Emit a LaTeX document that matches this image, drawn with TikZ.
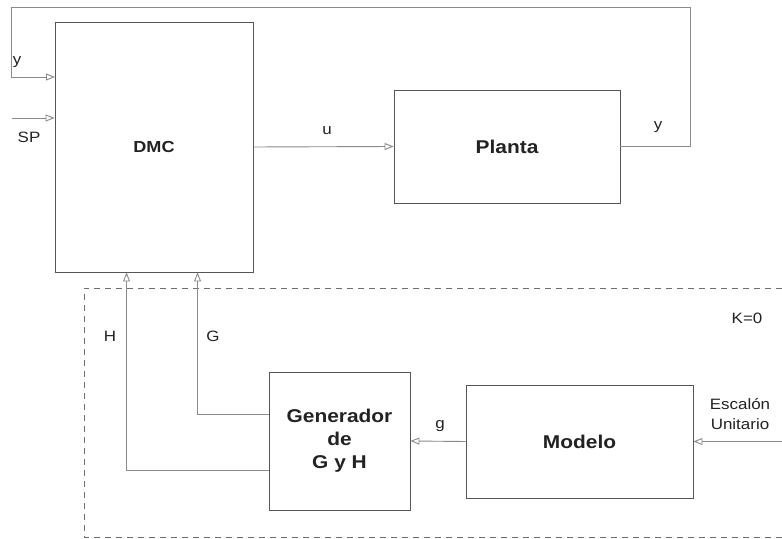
\documentclass[tikz,border=0pt]{standalone}
\usepackage{fontspec}
\setmainfont{Liberation Sans}[FakeStretch=1.13]
\usetikzlibrary{arrows.meta}
\definecolor{pcFFFFFF}{HTML}{FFFFFF}
\definecolor{pc555555}{HTML}{555555}
\definecolor{pc8A8A8A}{HTML}{8A8A8A}
\definecolor{pc6E6E6E}{HTML}{6E6E6E}
\definecolor{pc222222}{HTML}{222222}
\tikzset{
  blk/.style={draw=pc555555, line width=0.9bp, fill=pcFFFFFF, inner sep=0, align=center,
    text=pc222222, font=\bfseries\fontsize{18.5bp}{23bp}\selectfont},
  sig/.style={draw=pc8A8A8A, line width=0.9bp, -{Triangle[open, length=9bp, width=7bp]}},
  wire/.style={draw=pc8A8A8A, line width=0.9bp},
  lbl/.style={inner sep=0, text=pc222222, align=center, font=\fontsize{15bp}{20bp}\selectfont},
  zone/.style={draw=pc6E6E6E, line width=0.9bp, dash pattern=on 6bp off 5bp}
}

\begin{document}
\begin{tikzpicture}[x=1bp, y=-1bp]
\path[use as bounding box] (0,0) rectangle (782,539);
\path[fill=pcFFFFFF] (0,0) rectangle (782,539);
% bloques
\node[blk, minimum width=198bp, minimum height=250bp, font=\bfseries\fontsize{16bp}{20bp}\selectfont] (dmc) at (154,147) {DMC};
\node[blk, minimum width=226bp, minimum height=113bp] (planta) at (507,146.5) {Planta};
\node[blk, minimum width=141bp, minimum height=138bp] (gen) at (339.5,441) {Generador\\de\\G y H};
\node[blk, minimum width=227bp, minimum height=113bp] (modelo) at (579.5,441.5) {Modelo};
% zona K=0
\draw[zone] (782,288) -- (84,288) -- (84,537) -- (782,537);
% lazo superior
\coordinate (fbR) at (690,7);
\coordinate (fbL) at (11,7);
\coordinate (yin) at (55,77);
\coordinate (spin) at (12,118);
\coordinate (stepin) at (782,441.5);
\draw[sig] (dmc.east) -- (planta.west);
\draw[wire] (planta.east) -| (fbR) -- (fbL);
\draw[sig] (fbL) |- (yin);
\draw[sig] (spin) -- (spin -| dmc.west);
\draw[sig] ([yshift=-29bp]gen.west) -| ([xshift=72bp]dmc.south west);
\draw[sig] ([yshift=27bp]gen.west) -| ([xshift=143bp]dmc.south west);
\draw[sig] (modelo.west) -- (gen.east);
\draw[sig] (stepin) -- (modelo.east);
% etiquetas
\node[lbl] (ylbl) at (17,62) {y};
\node[lbl] (splbl) at (29,137) {SP};
\node[lbl] (ulbl) at (327,131) {u};
\node[lbl] (yout) at (658,127) {y};
\node[lbl] (hlbl) at (110,336) {H};
\node[lbl] (glbl) at (213,336) {G};
\node[lbl] (gsmall) at (440,426) {g};
\node[lbl] (klbl) at (747,318) {K=0};
\node[lbl] (esclbl) at (740,414) {Escalón\\Unitario};
\end{tikzpicture}
\end{document}
